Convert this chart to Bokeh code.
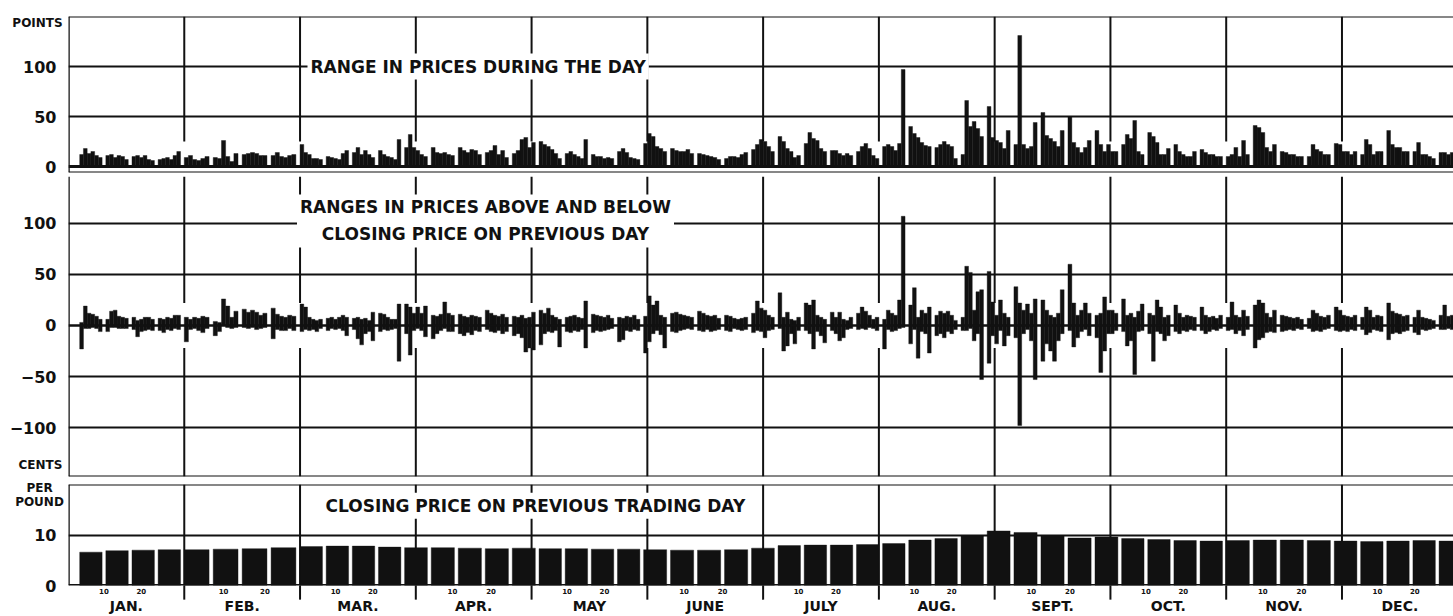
import datetime as dt
from bokeh.plotting import figure
from bokeh.layouts import column
from bokeh.models import Range1d, FixedTicker, LinearAxis, Span, Label, ColumnDataSource
from bokeh.core.properties import value
from bokeh.embed import file_html
from bokeh.resources import INLINE

# ---------------- data ----------------
YEAR = 1937  # calendar used only to place trading days (Mon-Sat) inside each month
month_names = ["JAN.", "FEB.", "MAR.", "APR.", "MAY", "JUNE",
               "JULY", "AUG.", "SEPT.", "OCT.", "NOV.", "DEC."]
day_marks = [10, 20]
left_ticks_top = [0, 50, 100]
left_ticks_mid = [-100, -50, 0, 50, 100]
left_ticks_low = [0, 10]

# Panel 1: range in prices during the day (points), one value per trading day
range_jan = [12, 18, 13, 15, 11, 9, 11, 12, 9, 11, 10, 7, 10, 11, 9, 11, 7, 6, 7, 8, 9, 7, 11, 15]
range_feb = [9, 11, 7, 6, 8, 10, 9, 8, 26, 10, 5, 13, 12, 13, 14, 13, 11, 11, 11, 14, 10, 9, 11, 12]
range_mar = [22, 14, 12, 8, 8, 7, 10, 9, 8, 7, 13, 16, 14, 19, 12, 16, 12, 9, 16, 12, 10, 9, 7, 27, 19, 32, 19]
range_apr = [16, 12, 10, 19, 14, 13, 14, 12, 11, 19, 16, 14, 17, 16, 12, 14, 16, 21, 12, 16, 9, 13, 16, 27, 29, 19]
range_may = [24, 25, 22, 20, 17, 13, 8, 13, 15, 12, 10, 8, 27, 12, 10, 10, 8, 9, 8, 15, 18, 14, 9, 8, 7, 23]
range_jun = [33, 30, 20, 18, 15, 18, 16, 15, 15, 17, 13, 13, 12, 11, 10, 9, 7, 8, 10, 10, 9, 12, 14, 17, 22, 27]
range_jul = [25, 20, 15, 30, 25, 18, 15, 9, 11, 23, 34, 28, 26, 18, 15, 16, 16, 13, 11, 13, 11, 15, 20, 23, 18, 11, 8]
range_aug = [20, 22, 20, 16, 23, 97, 40, 33, 29, 24, 21, 20, 19, 22, 25, 22, 20, 8, 12, 66, 40, 45, 38, 30, 60, 29]
range_sep = [26, 24, 18, 36, 22, 131, 22, 18, 20, 44, 54, 31, 28, 25, 20, 36, 50, 24, 19, 14, 19, 26, 36, 22, 15, 22]
range_oct = [15, 15, 22, 32, 28, 46, 15, 12, 34, 30, 24, 12, 12, 18, 22, 15, 12, 10, 10, 15, 17, 14, 12, 12, 10, 10]
range_nov = [10, 12, 19, 10, 26, 12, 41, 39, 34, 19, 15, 22, 15, 14, 12, 12, 10, 10, 10, 22, 17, 15, 12, 12, 23, 22]
range_dec = [15, 15, 12, 15, 12, 27, 22, 12, 15, 15, 36, 22, 19, 19, 15, 15, 15, 24, 12, 12, 10, 8, 14, 14, 12, 14, 14]

# Panel 2: high of the day vs previous close (points)
high_jan = [3, 19, 12, 11, 9, 6, 6, 14, 15, 9, 8, 7, 8, 5, 6, 8, 8, 6, 7, 6, 8, 7, 10, 10]
high_feb = [8, 6, 8, 7, 9, 8, 4, 3, 26, 19, 8, 14, 16, 13, 15, 13, 10, 12, 17, 11, 9, 8, 10, 9]
high_mar = [21, 18, 8, 6, 5, 6, 7, 8, 6, 8, 10, 8, 7, 8, 6, 7, 5, 13, 12, 11, 8, 6, 6, 21, 21, 18, 12]
high_apr = [18, 12, 19, 10, 9, 11, 23, 12, 10, 11, 9, 8, 10, 9, 8, 15, 12, 10, 9, 11, 8, 9, 8, 10, 7, 8]
high_may = [13, 15, 12, 17, 10, 8, 6, 8, 9, 10, 8, 7, 24, 11, 10, 9, 8, 10, 7, 8, 7, 9, 8, 10, 6, 9]
high_jun = [29, 20, 24, 10, 8, 12, 13, 11, 10, 9, 8, 14, 12, 10, 9, 10, 7, 10, 9, 7, 6, 7, 8, 12, 24, 17]
high_jul = [15, 10, 8, 32, 8, 13, 6, 5, 8, 22, 20, 25, 10, 8, 6, 13, 8, 13, 6, 5, 8, 12, 18, 14, 10, 6, 8]
high_aug = [6, 15, 12, 10, 25, 107, 20, 37, 8, 15, 12, 18, 10, 14, 12, 14, 10, 5, 8, 58, 52, 15, 33, 35, 53, 23]
high_sep = [10, 25, 12, 8, 38, 22, 15, 21, 12, 26, 25, 15, 10, 8, 12, 35, 60, 22, 10, 15, 22, 12, 10, 12, 28, 15]
high_oct = [15, 12, 26, 10, 12, 8, 14, 21, 12, 10, 25, 18, 8, 10, 20, 12, 8, 10, 9, 8, 18, 10, 8, 9, 7, 10]
high_nov = [8, 23, 10, 8, 15, 9, 20, 25, 22, 12, 8, 15, 10, 9, 8, 7, 8, 6, 7, 15, 12, 9, 8, 10, 18, 15]
high_dec = [10, 9, 8, 10, 8, 18, 15, 8, 10, 9, 22, 14, 12, 11, 9, 10, 8, 15, 8, 7, 6, 5, 10, 20, 9, 10, 8]

# Panel 2: low of the day vs previous close (points)
low_jan = [-23, -3, -3, -2, -3, -6, -6, -2, -2, -3, -3, -3, -4, -11, -6, -5, -4, -5, -5, -7, -4, -5, -3, -4]
low_feb = [-16, -4, -3, -5, -7, -3, -10, -6, 0, -2, -3, -2, -2, -3, -2, -4, -3, -2, -13, -4, -5, -5, -3, -5]
low_mar = [-6, -4, -5, -4, -6, -3, -5, -3, -4, -3, -5, -10, -4, -13, -19, -8, -6, -15, -6, -4, -5, -4, -3, -35, -8, -29, -5]
low_apr = [-3, -5, -11, -13, -8, -5, -3, -6, -6, -8, -10, -7, -9, -5, -6, -4, -6, -7, -5, -8, -6, -10, -8, -12, -26, -22]
low_may = [-24, -19, -8, -6, -7, -5, -21, -6, -7, -5, -6, -4, -22, -7, -5, -6, -5, -4, -3, -16, -14, -5, -6, -4, -5, -27]
low_jun = [-16, -8, -5, -9, -22, -6, -7, -5, -4, -3, -4, -5, -6, -4, -6, -5, -4, -5, -6, -3, -4, -5, -4, -7, -5, -6]
low_jul = [-12, -5, -4, -3, -25, -20, -8, -18, -5, -5, -8, -23, -6, -10, -17, -5, -8, -15, -12, -4, -3, -4, -3, -4, -2, -3, -5]
low_aug = [-23, -4, -6, -5, -3, -2, -18, -4, -32, -6, -8, -27, -10, -8, -12, -6, -8, -4, -5, -5, -3, -15, -8, -53, -37, -10]
low_sep = [-18, -5, -20, -10, -12, -98, -8, -4, -15, -53, -35, -18, -25, -35, -15, -8, -5, -21, -12, -6, -4, -10, -12, -46, -25, -8]
low_oct = [-8, -5, -6, -20, -15, -48, -6, -5, -8, -35, -6, -8, -15, -10, -6, -8, -5, -6, -4, -5, -5, -8, -6, -4, -5, -3]
low_nov = [-5, -4, -8, -5, -10, -4, -22, -14, -12, -7, -6, -7, -6, -5, -4, -5, -3, -4, -3, -6, -5, -6, -4, -3, -5, -6]
low_dec = [-5, -6, -4, -5, -4, -9, -7, -4, -5, -6, -14, -8, -7, -8, -6, -5, -7, -9, -4, -5, -4, -3, -4, -4, -3, -4, -5]

# Panel 3: closing price on previous trading day (cents per pound), one value per week (Mon-Sat)
close_weekly = [6.6, 6.9, 7.0, 7.1,
                7.1, 7.2, 7.3, 7.5,
                7.7, 7.8, 7.8, 7.6, 7.5,
                7.5, 7.4, 7.3, 7.4,
                7.3, 7.3, 7.2, 7.2, 7.1,
                7.0, 7.0, 7.1, 7.4,
                7.9, 8.0, 8.0, 8.1,
                8.3, 9.0, 9.3, 9.8, 10.8,
                10.5, 9.9, 9.4, 9.6,
                9.3, 9.1, 8.9, 8.8,
                8.9, 9.0, 9.0, 8.9, 8.8,
                8.7, 8.8, 8.9, 8.8]

range_by_month = [range_jan, range_feb, range_mar, range_apr, range_may, range_jun,
                  range_jul, range_aug, range_sep, range_oct, range_nov, range_dec]
high_by_month = [high_jan, high_feb, high_mar, high_apr, high_may, high_jun,
                 high_jul, high_aug, high_sep, high_oct, high_nov, high_dec]
low_by_month = [low_jan, low_feb, low_mar, low_apr, low_may, low_jun,
                low_jul, low_aug, low_sep, low_oct, low_nov, low_dec]

# ---------------- calendar helpers (x axis in month units, equal-width months) ----------------
def ndays(m):
    nxt = dt.date(YEAR + 1, 1, 1) if m == 12 else dt.date(YEAR, m + 1, 1)
    return (nxt - dt.date(YEAR, m, 1)).days

def trading_days(m):
    return [d for d in range(1, ndays(m) + 1)
            if dt.date(YEAR, m, d).weekday() != 6 and not (m == 1 and d < 4)]

def xstart(m, d):
    return (m - 1) + (d - 1) / ndays(m)

daily = dict(left=[], right=[], rng=[], zero=[], hi=[], lo=[])
for m in range(1, 13):
    days = trading_days(m)
    for d, r, h, l in zip(days, range_by_month[m - 1], high_by_month[m - 1], low_by_month[m - 1]):
        x0 = xstart(m, d)
        daily["left"].append(x0)
        daily["right"].append(x0 + 1.0 / ndays(m))
        daily["rng"].append(r)
        daily["zero"].append(0)
        daily["hi"].append(h)
        daily["lo"].append(l)
daily_src = ColumnDataSource(daily)

weekly = dict(left=[], right=[], top=[], zero=[])
monday = dt.date(YEAR, 1, 4)
for i, v in enumerate(close_weekly):
    mon = monday + dt.timedelta(days=7 * i)
    sat = mon + dt.timedelta(days=5)
    x0 = xstart(mon.month, mon.day)
    x1 = 12.0 if sat.year > YEAR else xstart(sat.month, sat.day) + 1.0 / ndays(sat.month)
    weekly["left"].append(x0)
    weekly["right"].append(x1)
    weekly["top"].append(v)
    weekly["zero"].append(0)
weekly_src = ColumnDataSource(weekly)

month_bounds = list(range(1, 12))

# ---------------- styling ----------------
INK = "#111111"
FONT = "DejaVu Sans"
W = 1453
LEFT = 68
XMAX = (W - LEFT) / 115.77
PX = XMAX / (W - LEFT)
def xpx(px):
    return (px - LEFT) * PX

xr = Range1d(0, XMAX)

def make_fig(height, yr, top, bottom, yticks, grid_ticks):
    p = figure(width=W, height=height, x_range=xr, y_range=yr,
               output_backend="svg", toolbar_location=None,
               x_axis_location=None, y_axis_location="left",
               min_border_left=LEFT, min_border_right=0,
               min_border_top=top, min_border_bottom=bottom,
               outline_line_color=None,
               background_fill_color="white", border_fill_color="white")
    p.xgrid.visible = False
    p.ygrid.ticker = FixedTicker(ticks=grid_ticks)
    p.ygrid.grid_line_color = INK
    p.ygrid.grid_line_width = 2
    ax = p.yaxis[0]
    ax.ticker = FixedTicker(ticks=yticks)
    ax.axis_line_color = None
    ax.major_tick_line_color = None
    ax.major_tick_out = 0
    ax.major_tick_in = 0
    ax.minor_tick_line_color = None
    ax.major_label_standoff = 12
    ax.major_label_text_font = FONT
    ax.major_label_text_font_style = "bold"
    ax.major_label_text_font_size = "16px"
    ax.major_label_text_color = INK
    p.add_layout(Span(location=0, dimension="height", line_color=INK, line_width=2.5))
    return p

def title_label(p, x, y, text, align="left"):
    p.add_layout(Label(x=x, y=y, text=text, text_font=FONT, text_font_style="bold",
                       text_font_size="17px", text_color=INK, text_align=align,
                       text_baseline="middle", text_line_height=1.35,
                       background_fill_color="white", padding=3))

def side_text(p, y, text, x_px=39):
    # unit captions in the left margin; overlay level so they are not clipped to the frame
    p.text(x=[xpx(x_px)], y=[y], text=[text], level="overlay",
           text_font=value(FONT), text_font_style="bold", text_font_size="12px",
           text_color=INK, text_align="center", text_baseline="middle")

# ---- panel 1: range during the day ----  (canvas 0..176, frame 16..172)
p1 = make_fig(176, Range1d(-6, 150), 16, 4, left_ticks_top, [50, 100])
p1.segment(x0=month_bounds, y0=[150] * 11, x1=month_bounds, y1=[25] * 11, line_color=INK, line_width=2)
p1.quad(left="left", right="right", bottom="zero", top="rng", source=daily_src,
        fill_color=INK, line_color=INK, line_width=0.4)
for loc, w in [(150, 2), (0, 3), (-6, 2)]:
    p1.add_layout(Span(location=loc, dimension="width", line_color=INK, line_width=w))
title_label(p1, xpx(307), 100, "RANGE IN PRICES DURING THE DAY")
side_text(p1, 144, "POINTS", x_px=37)

# ---- panel 2: above and below previous close ----  (canvas 176..480, frame 176..476)
p2 = make_fig(304, Range1d(-148, 146), 0, 4, left_ticks_mid, [-100, -50, 50, 100])
p2.segment(x0=month_bounds, y0=[146] * 11, x1=month_bounds, y1=[22] * 11, line_color=INK, line_width=2)
p2.segment(x0=month_bounds, y0=[-22] * 11, x1=month_bounds, y1=[-148] * 11, line_color=INK, line_width=2)
p2.quad(left="left", right="right", bottom="lo", top="hi", source=daily_src,
        fill_color=INK, line_color=INK, line_width=0.4)
for loc, w in [(0, 2.5), (-148, 2)]:
    p2.add_layout(Span(location=loc, dimension="width", line_color=INK, line_width=w))
title_label(p2, xpx(485), 102.4,
            "RANGES IN PRICES ABOVE AND BELOW\nCLOSING PRICE ON PREVIOUS DAY", align="center")
side_text(p2, -137, "CENTS", x_px=40)

# ---- panel 3: closing price ----  (canvas 480..616, frame 484..586)
p3 = make_fig(136, Range1d(0, 20), 4, 30, left_ticks_low, [10])
p3.segment(x0=month_bounds, y0=[20] * 11, x1=month_bounds, y1=[0] * 11, line_color=INK, line_width=2)
p3.quad(left="left", right="right", bottom="zero", top="top", source=weekly_src,
        fill_color=INK, line_color=INK, line_width=0.4)
# month division marks below the baseline (overlay level, outside the frame)
p3.segment(x0=month_bounds, y0=[0] * 11, x1=month_bounds, y1=[-2.8] * 11,
           line_color=INK, line_width=2, level="overlay")
for loc, w in [(20, 2), (0, 3)]:
    p3.add_layout(Span(location=loc, dimension="width", line_color=INK, line_width=w))
title_label(p3, xpx(322), 15.8, "CLOSING PRICE ON PREVIOUS TRADING DAY")
side_text(p3, 19.3, "PER", x_px=39)
side_text(p3, 16.6, "POUND", x_px=39)

day_ticks, day_over = [], {}
for m in range(12):
    for d in day_marks:
        t = m + (d - 0.5) / ndays(m + 1)
        day_ticks.append(t)
        day_over[t] = str(d)
ax_days = LinearAxis(ticker=FixedTicker(ticks=day_ticks), major_label_overrides=day_over)
ax_days.axis_line_color = None
ax_days.major_tick_line_color = None
ax_days.major_tick_out = 0
ax_days.major_tick_in = 0
ax_days.minor_tick_line_color = None
ax_days.minor_tick_out = 0
ax_days.major_label_standoff = 2
ax_days.major_label_text_font = FONT
ax_days.major_label_text_font_style = "bold"
ax_days.major_label_text_font_size = "7px"
ax_days.major_label_text_color = INK
p3.add_layout(ax_days, "below")

mid_ticks = [m + 0.5 for m in range(12)]
ax_months = LinearAxis(ticker=FixedTicker(ticks=mid_ticks),
                       major_label_overrides={t: n for t, n in zip(mid_ticks, month_names)})
ax_months.axis_line_color = None
ax_months.major_tick_line_color = None
ax_months.major_tick_out = 0
ax_months.major_tick_in = 0
ax_months.minor_tick_line_color = None
ax_months.major_label_standoff = 1
ax_months.major_label_text_font = FONT
ax_months.major_label_text_font_style = "bold"
ax_months.major_label_text_font_size = "14px"
ax_months.major_label_text_color = INK
p3.add_layout(ax_months, "below")

layout = column(p1, p2, p3, spacing=0)
open("out.html", "w").write(file_html(layout, INLINE, "Price ranges"))
